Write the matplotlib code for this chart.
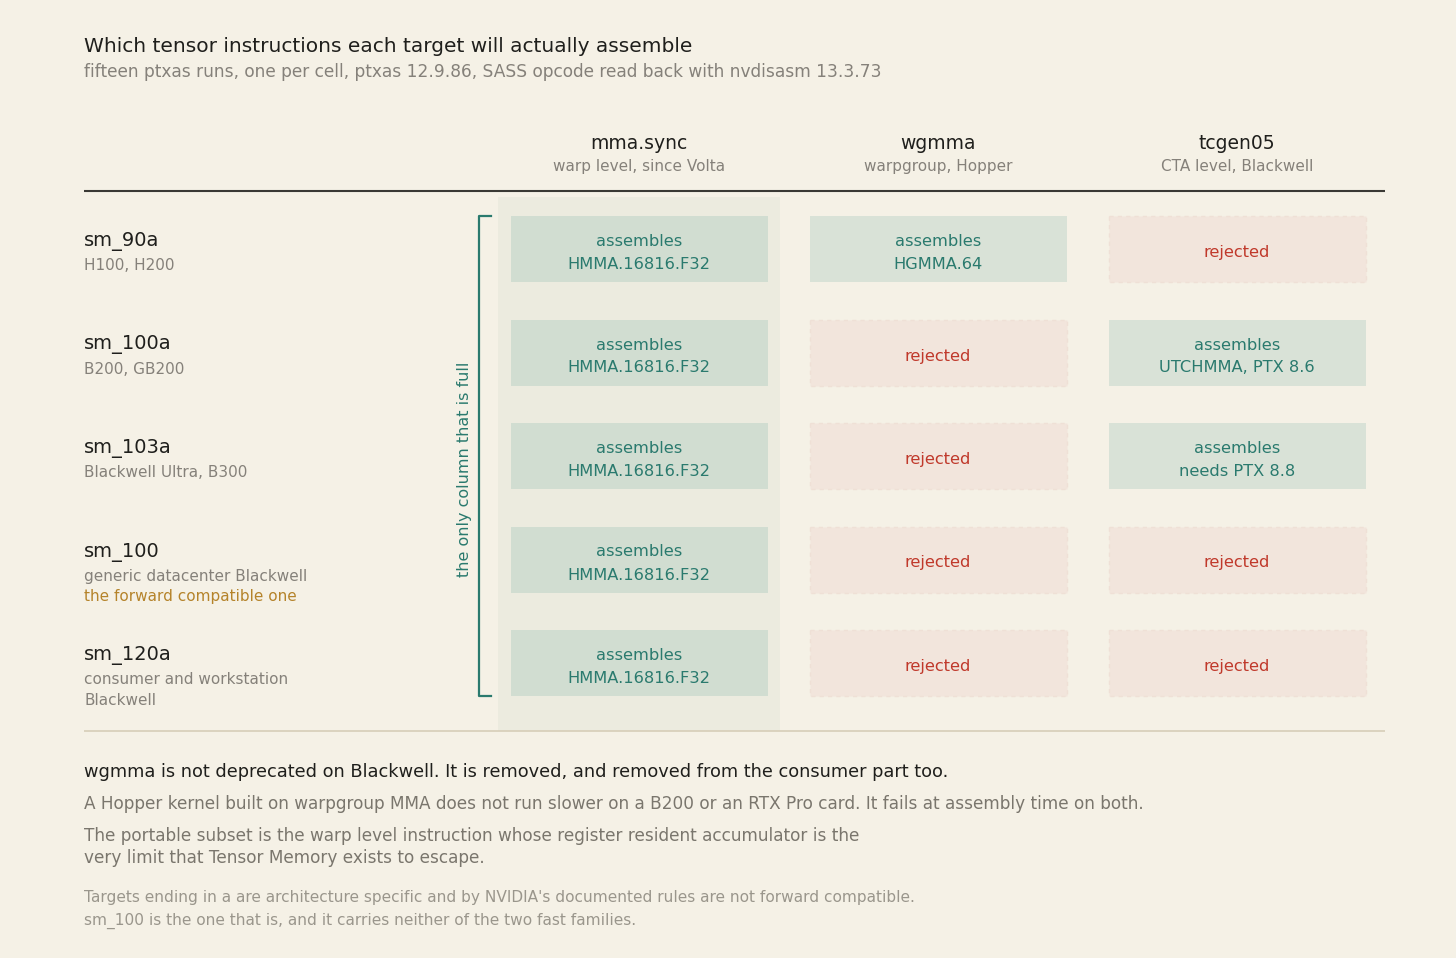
import matplotlib.pyplot as plt
from matplotlib.patches import Rectangle

plt.rcParams["font.family"] = "DejaVu Sans"

# chart content
targets = ["sm_90a", "sm_100a", "sm_103a", "sm_100", "sm_120a"]
target_notes = [
    ["H100, H200"],
    ["B200, GB200"],
    ["Blackwell Ultra, B300"],
    ["generic datacenter Blackwell"],
    ["consumer and workstation", "Blackwell"],
]
target_flags = ["", "", "", "the forward compatible one", ""]

families = ["mma.sync", "wgmma", "tcgen05"]
family_notes = ["warp level, since Volta", "warpgroup, Hopper", "CTA level, Blackwell"]

# one row per target, one entry per family; None means ptxas rejected it
assembled = [
    ["HMMA.16816.F32", "HGMMA.64", None],
    ["HMMA.16816.F32", None, "UTCHMMA, PTX 8.6"],
    ["HMMA.16816.F32", None, "needs PTX 8.8"],
    ["HMMA.16816.F32", None, None],
    ["HMMA.16816.F32", None, None],
]
full_column = 0

title = "Which tensor instructions each target will actually assemble"
subtitle = "fifteen ptxas runs, one per cell, ptxas 12.9.86, SASS opcode read back with nvdisasm 13.3.73"
bracket_label = "the only column that is full"
headline = "wgmma is not deprecated on Blackwell. It is removed, and removed from the consumer part too."
body_lines = [
    "A Hopper kernel built on warpgroup MMA does not run slower on a B200 or an RTX Pro card. It fails at assembly time on both.",
    "The portable subset is the warp level instruction whose register resident accumulator is the",
    "very limit that Tensor Memory exists to escape.",
]
footnote_lines = [
    "Targets ending in a are architecture specific and by NVIDIA's documented rules are not forward compatible.",
    "sm_100 is the one that is, and it carries neither of the two fast families.",
]

# palette
BG = "#f5f1e6"
INK = "#1f1f1c"
MUTED = "#85817a"
BODY = "#7a766d"
FAINT = "#9a968c"
TEAL = "#2a7a6e"
RED = "#c0392b"
GOLD = "#b5832a"
OK_FILL = "#d9e2d7"
OK_FILL_BAND = "#d1ddd1"
NO_FILL = "#f2e5dc"
NO_EDGE = "#efe0d6"
BAND = "#ecebdf"

# layout in pixels
left = 84
right = 1385
col_x0 = 639
col_step = 299
row_y0 = 249
row_step = 103.5
cell_w = 257
cell_h = 66

fig = plt.figure(figsize=(14.56, 9.58), dpi=100, facecolor=BG)
ax = fig.add_axes([0, 0, 1, 1])
ax.set_xlim(0, 1456)
ax.set_ylim(958, 0)
ax.axis("off")
ax.set_facecolor(BG)

ax.text(left, 52, title, fontsize=14.5, color=INK, va="baseline")
ax.text(left, 77, subtitle, fontsize=12.25, color=MUTED, va="baseline")

# highlight band behind the full column
band_x = col_x0 + col_step * full_column
ax.add_patch(Rectangle((band_x - 141, 197), 282, 534, facecolor=BAND, edgecolor="none", zorder=0))

for j, (name, note) in enumerate(zip(families, family_notes)):
    x = col_x0 + col_step * j
    ax.text(x, 149, name, fontsize=13.5, color=INK, ha="center", va="baseline")
    ax.text(x, 171, note, fontsize=11, color=MUTED, ha="center", va="baseline")

ax.plot([left, right], [190.5, 190.5], color="#3a3934", lw=1.5, solid_capstyle="butt")
ax.plot([left, right], [731, 731], color="#d9d0bb", lw=1.3, solid_capstyle="butt")

for i, target in enumerate(targets):
    y = row_y0 + row_step * i
    ax.text(left, y - 3, target, fontsize=14, color=INK, va="baseline")
    notes = target_notes[i]
    for k, line in enumerate(notes):
        ax.text(left, y + 21 + 21 * k, line, fontsize=11, color=MUTED, va="baseline")
    if target_flags[i]:
        ax.text(left, y + 21 + 21 * len(notes), target_flags[i], fontsize=11, color=GOLD, va="baseline")

    for j, opcode in enumerate(assembled[i]):
        x = col_x0 + col_step * j
        if opcode is None:
            ax.add_patch(Rectangle((x - cell_w / 2, y - cell_h / 2), cell_w, cell_h,
                                   facecolor=NO_FILL, edgecolor=NO_EDGE, lw=1.0,
                                   linestyle=(0, (3, 3)), zorder=1))
            ax.text(x, y + 8, "rejected", fontsize=11.7, color=RED, ha="center", va="baseline", zorder=2)
        else:
            fill = OK_FILL_BAND if j == full_column else OK_FILL
            ax.add_patch(Rectangle((x - cell_w / 2, y - cell_h / 2), cell_w, cell_h,
                                   facecolor=fill, edgecolor="none", zorder=1))
            ax.text(x, y - 3, "assembles", fontsize=11.7, color=TEAL, ha="center", va="baseline", zorder=2)
            ax.text(x, y + 20, opcode, fontsize=11.7, color=TEAL, ha="center", va="baseline", zorder=2)

# bracket marking the full column
top = row_y0 - cell_h / 2
bottom = row_y0 + row_step * (len(targets) - 1) + cell_h / 2
ax.plot([491, 479, 479, 491], [top, top, bottom, bottom], color=TEAL, lw=1.6)
ax.text(464, 469, bracket_label, fontsize=11.5, color=TEAL,
        rotation=90, ha="center", va="center")

ax.text(left, 777, headline, fontsize=12.75, color=INK, va="baseline")
ax.text(left, 809, body_lines[0], fontsize=12.2, color=BODY, va="baseline")
ax.text(left, 841, body_lines[1], fontsize=12.2, color=BODY, va="baseline")
ax.text(left, 863, body_lines[2], fontsize=12.2, color=BODY, va="baseline")
ax.text(left, 902, footnote_lines[0], fontsize=11.05, color=FAINT, va="baseline")
ax.text(left, 925, footnote_lines[1], fontsize=11.05, color=FAINT, va="baseline")

fig.savefig("out.png", dpi=100, facecolor=BG)
